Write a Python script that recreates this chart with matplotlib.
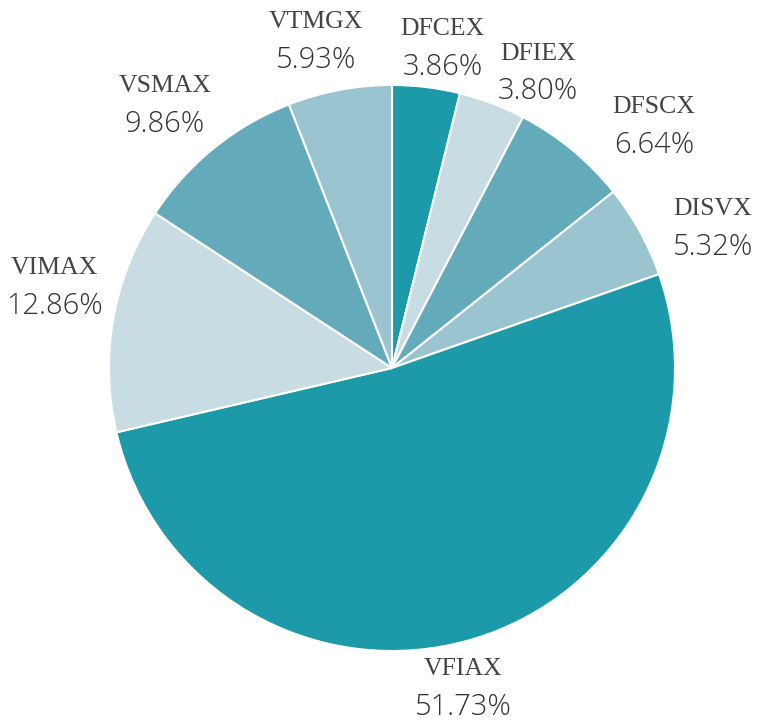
import numpy as np
import matplotlib
matplotlib.use("Agg")
from matplotlib import pyplot as plt

funds = ["DFCEX", "DFIEX", "DFSCX", "DISVX", "VFIAX", "VIMAX", "VSMAX", "VTMGX"]
shares = [3.86, 3.80, 6.64, 5.32, 51.73, 12.86, 9.86, 5.93]
colors = ["#1c9aa9", "#c8dde3", "#63abbb", "#9ac4cf",
          "#1c9aa9", "#c8dde3", "#63abbb", "#9ac4cf"]

# pixel nudges for the labels (collision tweaks)
nudge = {"DFCEX": (11, -3), "DFIEX": (31, -9), "DFSCX": (55, -9), "DISVX": (36, -18),
         "VFIAX": (-20, -8), "VIMAX": (-17, 24), "VSMAX": (-22, 10), "VTMGX": (-16, 7)}

W, H = 757, 725
fig = plt.figure(figsize=(W / 100, H / 100), dpi=100)
ax = fig.add_axes([0, 0, 1, 1])
ax.set_xlim(0, W)
ax.set_ylim(0, H)
ax.set_aspect("equal")
ax.axis("off")

cx, cy, R = 392, H - 368, 283
ax.pie(shares, colors=colors, center=(cx, cy), radius=R, startangle=90,
       counterclock=False, wedgeprops=dict(edgecolor="white", linewidth=1.5))
ax.set_xlim(0, W)
ax.set_ylim(0, H)

cum = np.cumsum([0] + shares[:-1])
tot = sum(shares)
for name, s, c0 in zip(funds, shares, cum):
    th = np.deg2rad((c0 + s / 2) / tot * 360)
    x = cx + 1.15 * R * np.sin(th) + nudge[name][0]
    y = cy + 1.15 * R * np.cos(th) + nudge[name][1]
    ax.text(x, y + 19, name, ha="center", va="center", fontsize=18.5,
            family="Liberation Serif", color="#444444")
    ax.text(x, y - 19, "%.2f%%" % s, ha="center", va="center", fontsize=21,
            family="Open Sans", fontweight="light", color="#333333")

fig.savefig("out.png", dpi=100)
